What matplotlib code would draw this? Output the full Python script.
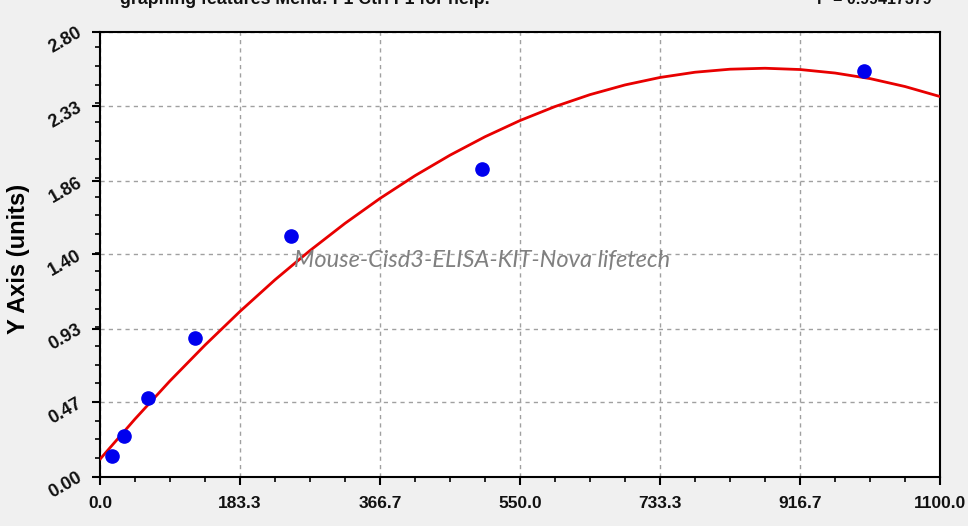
import matplotlib
matplotlib.use("Agg")
import matplotlib.pyplot as plt
from matplotlib.ticker import FixedLocator, AutoMinorLocator

# ---- data ----
conc = [15.6, 31.25, 62.5, 125, 250, 500, 1000]
od = [0.132, 0.258, 0.493, 0.871, 1.515, 1.937, 2.553]

# fitted curve
curve_x = [0, 45.83, 91.67, 137.5, 183.33, 229.17, 275, 320.83, 366.67, 412.5,
           458.33, 504.17, 550, 595.83, 641.67, 687.5, 733.33, 779.17, 825,
           870.83, 916.67, 962.5, 1008.33, 1054.17, 1100]
curve_y = [0.110, 0.363, 0.603, 0.828, 1.040, 1.239, 1.423, 1.594, 1.751, 1.894,
           2.023, 2.139, 2.241, 2.329, 2.404, 2.465, 2.512, 2.545, 2.564,
           2.570, 2.562, 2.540, 2.505, 2.455, 2.392]

xticks = [0.0, 183.3, 366.7, 550.0, 733.3, 916.7, 1100.0]
xtick_labels = ["0.0", "183.3", "366.7", "550.0", "733.3", "916.7", "1100.0"]
yticks = [0.00, 0.47, 0.93, 1.40, 1.86, 2.33, 2.80]
ytick_labels = ["0.00", "0.47", "0.93", "1.40", "1.86", "2.33", "2.80"]

ylabel = "Y Axis (units)"
watermark = "Mouse-Cisd3-ELISA-KIT-Nova lifetech"
top_left_text = "graphing features Menu: F1 Ctrl F1 for help."
top_right_text = "r² = 0.99417379"

# ---- figure ----
fig = plt.figure(figsize=(9.68, 5.26), dpi=100, facecolor="#f0f0f0")
ax = fig.add_axes([100/968, 1 - 476.7/526, 840/968, 445/526])
ax.set_facecolor("white")

ax.plot(curve_x, curve_y, color="#e80000", lw=2.0, zorder=3,
        solid_joinstyle="round", solid_capstyle="round")
ax.plot(conc, od, linestyle="none", marker="o", markersize=9.5,
        color="#0000ee", zorder=4)

ax.set_xlim(0, 1100)
ax.set_ylim(0, 2.80)

ax.xaxis.set_major_locator(FixedLocator(xticks))
ax.yaxis.set_major_locator(FixedLocator(yticks))
ax.set_xticklabels(xtick_labels)
ax.set_yticklabels(ytick_labels)
ax.xaxis.set_minor_locator(AutoMinorLocator(4))
ax.yaxis.set_minor_locator(AutoMinorLocator(4))

xfont = dict(family="Liberation Sans", weight="bold", size=12.5)
yfont = dict(family="Liberation Sans", weight="bold", size=13)
for lab in ax.get_xticklabels():
    lab.set_fontproperties(xfont)
    lab.set_color("#111111")
for lab in ax.get_yticklabels():
    lab.set_fontproperties(yfont)
    lab.set_color("#111111")
    lab.set_rotation(30)
    lab.set_rotation_mode("anchor")
    lab.set_ha("right")
    lab.set_va("center")

ax.tick_params(axis="both", which="major", direction="out", length=6, width=1.5, color="black")
ax.tick_params(axis="both", which="minor", direction="out", length=3.5, width=1.2, color="black")
ax.tick_params(axis="x", which="major", pad=8)
ax.tick_params(axis="y", which="major", pad=8)

ax.grid(True, which="major", color="#a0a0a0", linestyle=(0, (3, 3)), linewidth=1.0)
ax.set_axisbelow(True)

for side in ["left", "bottom", "top", "right"]:
    ax.spines[side].set_color("black")
    ax.spines[side].set_linewidth(1.5)

ax.set_ylabel(ylabel, family="Liberation Sans", weight="bold", size=17)
ax.yaxis.set_label_coords(-70/840, 0.49)

ax.text(0.4554, 0.485, watermark, transform=ax.transAxes, ha="center", va="center",
        family="Lato", style="italic", size=17, color="#808080", zorder=5)

fig.text(120/968, 1 - 4/526, top_left_text, ha="left", va="baseline",
         family="Liberation Sans", weight="bold", size=12.8, color="#111111")
fig.text(932/968, 1 - 4/526, top_right_text, ha="right", va="baseline",
         family="Liberation Sans", weight="bold", size=11.5, color="#111111")

fig.savefig("out.png", dpi=100, facecolor=fig.get_facecolor())
